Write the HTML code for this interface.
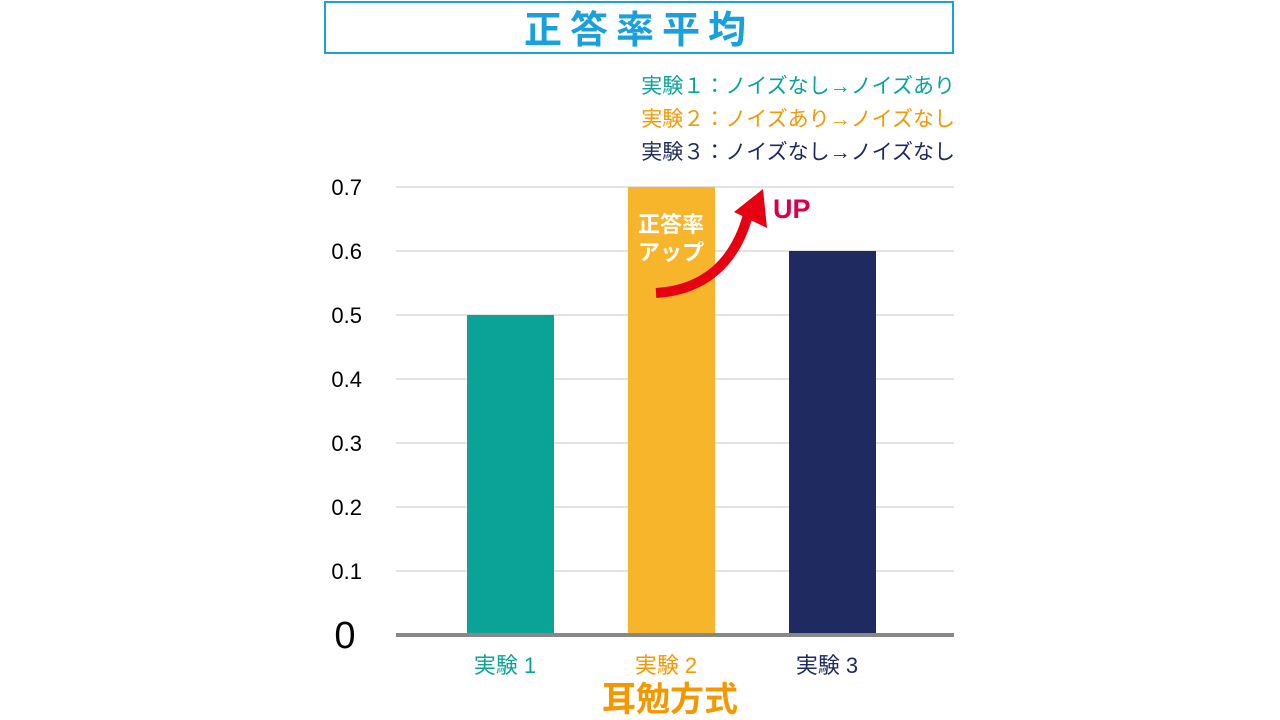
<!DOCTYPE html>
<html><head><meta charset="utf-8"><style>
body{margin:0;width:1280px;height:720px;background:#fff;overflow:hidden}
svg{position:absolute;left:0;top:0}
text{font-family:"Liberation Sans","Noto Sans CJK JP",sans-serif}
</style></head><body>
<svg id="c" width="1280" height="720">
<rect x="325" y="2" width="628" height="51" fill="#fff" stroke="#1aa0dc" stroke-width="2"/>
<text x="639" y="43" text-anchor="middle" font-size="38" font-weight="bold" fill="#1aa0dc" letter-spacing="8">正答率平均</text>
<g font-size="21" text-anchor="end">
<text x="955" y="93" fill="#0ba398">実験１：ノイズなし→ノイズあり</text>
<text x="955" y="126" fill="#f39800">実験２：ノイズあり→ノイズなし</text>
<text x="955" y="159" fill="#1f2a60">実験３：ノイズなし→ノイズなし</text>
</g>
<g id="grid"></g><g id="bars"></g>
<rect x="396" y="633" width="558" height="4" fill="#888"/>
<g font-size="22" text-anchor="middle" id="xl"></g>
<text x="670" y="711" font-size="34" font-weight="bold" text-anchor="middle" fill="#f39800">耳勉方式</text>
<g font-size="22" font-weight="bold" fill="#fff" text-anchor="middle">
<text x="671" y="232">正答率</text><text x="671" y="260">アップ</text></g>
<path d="M656 293 C705 290 735 262 748 215" fill="none" stroke="#e60012" stroke-width="10"/>
<polygon points="763,189 767,228 734,212" fill="#e60012"/>
<text x="773" y="218" font-size="27" font-weight="bold" fill="#d6004f">UP</text>
</svg>
<script>
const categories=["実験 1","実験 2","実験 3"];
const values=[0.5,0.7,0.6];
const colors=["#0ba398","#f6b52b","#1f2a60"];
const labelColors=["#0ba398","#f39800","#1f2a60"];
const ticks=[0.1,0.2,0.3,0.4,0.5,0.6,0.7];
const tickLabels=["0.1","0.2","0.3","0.4","0.5","0.6","0.7"];
const NS="http://www.w3.org/2000/svg";
const y=v=>635-v*640;
const xc=i=>510+i*161;
const g=document.getElementById('grid');
ticks.forEach((t,i)=>{
 const l=document.createElementNS(NS,'line');
 
 
 l.setAttribute('x1',396);l.setAttribute('x2',954);l.setAttribute('y1',y(t));l.setAttribute('y2',y(t));
 l.setAttribute('stroke','#e3e3e3');l.setAttribute('stroke-width','2');g.appendChild(l);
 const tx=document.createElementNS(NS,'text');
 
 
 tx.setAttribute('x',362);tx.setAttribute('y',y(t)+8);tx.setAttribute('text-anchor','end');tx.setAttribute('font-size','22');
 tx.textContent=tickLabels[i];g.appendChild(tx);
});
const z=document.createElementNS(NS,'text');


z.setAttribute('x',345);z.setAttribute('y',648);z.setAttribute('text-anchor','middle');z.setAttribute('font-size','38');z.textContent='0';g.appendChild(z);
const b=document.getElementById('bars'),xl=document.getElementById('xl');
values.forEach((v,i)=>{
 const r=document.createElementNS(NS,'rect');
 
 
 r.setAttribute('x',xc(i)-43);r.setAttribute('width',87);r.setAttribute('y',y(v));r.setAttribute('height',y(0)-y(v));
 r.setAttribute('fill',colors[i]);b.appendChild(r);
 const t=document.createElementNS(NS,'text');
 
 
 t.setAttribute('x',xc(i)-5);t.setAttribute('y',673);t.setAttribute('fill',labelColors[i]);t.textContent=categories[i];xl.appendChild(t);
});
</script>
</body></html>
